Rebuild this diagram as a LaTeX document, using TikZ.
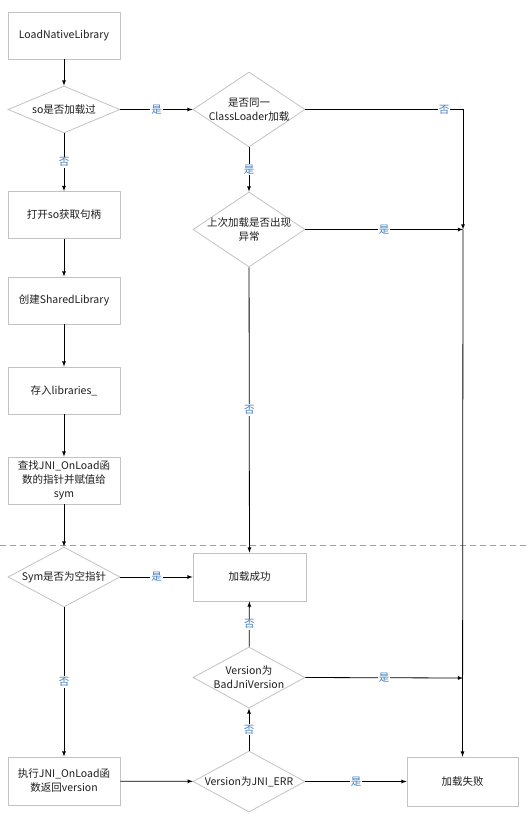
\documentclass[tikz,border=0pt]{standalone}
\usepackage{fontspec}
\setmainfont{Noto Sans CJK SC}
\usetikzlibrary{shapes.geometric}
\definecolor{edgegray}{RGB}{195,195,195}
\definecolor{dashgray}{RGB}{160,160,160}
\definecolor{yesnoblue}{RGB}{66,126,190}
\definecolor{txtgray}{RGB}{30,30,30}

\begin{document}
\begin{tikzpicture}[x=1pt,y=-1pt,
  font=\fontsize{10.5}{14}\selectfont,
  proc/.style={draw=edgegray,line width=0.8pt,fill=white,minimum width=112,minimum height=47,align=center,text=txtgray,inner sep=1pt},
  decide/.style={diamond,draw=edgegray,line width=0.8pt,fill=white,minimum width=112,inner sep=0pt},
  dtext/.style={align=center,text=txtgray,inner sep=0pt},
  yn/.style={fill=white,text=yesnoblue,inner sep=1pt},
  flow/.style={-latex,line width=0.8pt}]
\useasboundingbox (0,0) rectangle (530,820);
\draw[dashgray,line width=0.8pt,dash pattern=on 6pt off 4pt] (0,545)--(530,545);
% left column
\node[proc] (load) at (64,35.5) {LoadNativeLibrary};
\node[decide,minimum height=47,label={[dtext]center:so是否加载过}] (sotest) at (64,109.5) {};
\node[proc] (openso) at (64,215) {打开so获取句柄};
\node[proc] (create) at (64,300.5) {创建SharedLibrary};
\node[proc] (store) at (64,390.5) {存入libraries\_};
\node[proc] (findsym) at (64,480.5) {查找JNI\_OnLoad函\\数的指针并赋值给\\sym};
\node[decide,minimum height=60,label={[dtext]center:Sym是否为空指针}] (symtest) at (64,577) {};
\node[proc,minimum height=48] (exec) at (64,781) {执行JNI\_OnLoad函\\数返回version};
% middle column
\node[decide,minimum height=75,label={[dtext]center:是否同一\\ClassLoader加载}] (sameldr) at (249,109.5) {};
\node[decide,minimum height=75,label={[dtext]center:上次加载是否出现\\异常}] (prevexc) at (249,229.5) {};
\node[proc,minimum width=113,minimum height=48] (ok) at (249.5,577) {加载成功};
\node[decide,minimum height=61,label={[dtext]center:Version为\\BadJniVersion}] (bad) at (249,677.5) {};
\node[decide,minimum height=61,label={[dtext]center:Version为JNI\_ERR}] (jnierr) at (249,781.5) {};
% right column
\node[proc,minimum width=111,minimum height=49] (fail) at (462.5,781.5) {加载失败};
\coordinate (j1) at (463,229.5); \coordinate (j2) at (463,678);

\draw[flow] (load)--(sotest);
\draw[flow] (sotest)--node[yn]{是} (sameldr);
\draw[flow] (sotest)--node[yn]{否} (openso);
\draw[flow] (openso)--(create);
\draw[flow] (create)--(store);
\draw[flow] (store)--(findsym);
\draw[flow] (findsym)--(symtest);
\draw[flow] (sameldr)--node[yn]{是} (prevexc);
\draw[flow] (sameldr.east)-|node[yn,pos=0.44]{否} (j1);
\draw[flow] (prevexc.east)--node[yn]{是} (j1);
\draw[flow] (prevexc)--node[yn]{否} (ok);
\draw[flow] (j1)--(fail);
\draw[flow] (symtest)--node[yn]{是} (ok);
\draw[flow] (symtest)--node[yn]{否} (exec);
\draw[flow] (exec)--(jnierr);
\draw[flow] (jnierr)--node[yn]{否} (bad);
\draw[flow] (bad)--node[yn]{否} (ok);
\draw[flow] (bad.east)--node[yn]{是} (j2);
\draw[flow] (jnierr)--node[yn]{是} (fail);
\end{tikzpicture}
\end{document}
